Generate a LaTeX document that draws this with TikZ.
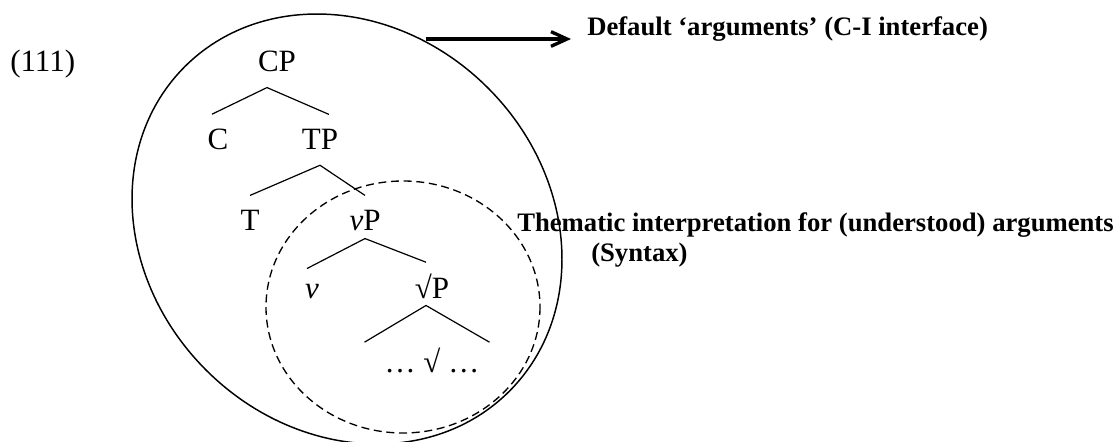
\documentclass[tikz,border=0pt]{standalone}
\usepackage{fontspec}
\setmainfont{Liberation Serif}
\usetikzlibrary{arrows.meta}

\begin{document}
\begin{tikzpicture}[x=0.75pt, y=-0.75pt,
    cat/.style={font=\fontsize{23.25}{28}\selectfont, inner xsep=0pt, inner ysep=11.25pt, anchor=base},
    note/.style={font=\fontsize{20}{24}\selectfont\bfseries, inner sep=0pt, anchor=base west},
    branch/.style={line width=0.9pt}]
  \useasboundingbox (0,0) rectangle (1114,442);

  % 1. example number
  \node[cat, anchor=base west] (exnum) at (10,72) {(111)};

  % 2. tree
  \node[cat] (cp) at (277,72) {CP};
  \node[cat] (c) at (218,150) {C};
  \node[cat] (tp) at (320,150) {TP};
  \node[cat] (t) at (250,231) {T};
  \node[cat] (vp) at (365,231) {\textit{v}P};
  \node[cat] (v) at (312,298) {\textit{v}};
  \node[cat] (rp) at (432,298) {√P};
  \node[cat, inner xsep=11.25pt, inner ysep=3.75pt] (dots) at (432,372) {… √ …};

  \draw[branch] ([xshift=-4.5pt]c.north) -- ([xshift=-7.5pt]cp.south) -- ([xshift=6.75pt]tp.north);
  \draw[branch] (t.north) -- (tp.south) -- (vp.north);
  \draw[branch] ([xshift=-3.75pt]v.north) -- ([yshift=6pt]vp.south) -- ([xshift=-4.5pt, yshift=-3pt]rp.north);
  \draw[branch] ([xshift=-3.75pt]dots.north west) -- ([xshift=-4.5pt, yshift=6pt]rp.south) -- ([xshift=-3.75pt]dots.north east);

  % 3. domains
  \draw[line width=1.1pt, rotate around={-45:(347,229)}] (347,229) ellipse [x radius=229.5, y radius=199.4];
  \draw[line width=1pt, dash pattern=on 6pt off 3.5pt] (403,307) ellipse [x radius=137, y radius=126];

  % 4. labels
  \node[note] (default) at (587,36) {Default ‘arguments’ (C-I interface)};
  \node[note] (thematic) at (517,232) {Thematic interpretation for (understood) arguments};
  \node[note] (syntax) at (591,262) {(Syntax)};

  \coordinate (arrtail) at (426,39);
  \draw[line width=2.5pt, -{Straight Barb[length=12pt, width=11pt]}] (arrtail) -- ([xshift=-12pt]arrtail -| default.west);
\end{tikzpicture}
\end{document}
